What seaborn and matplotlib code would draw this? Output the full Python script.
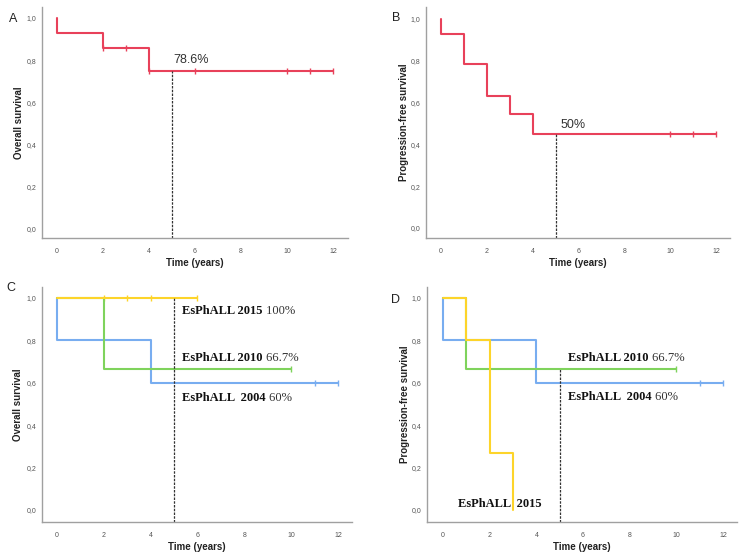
import pandas as pd
import numpy as np
import matplotlib
matplotlib.use("Agg")
import matplotlib.pyplot as plt
import seaborn as sns

# ---- data ----
# A: overall survival, whole cohort
a_time = [0, 0, 2, 4, 12]
a_surv = [1.0, 0.929, 0.857, 0.75, 0.75]
a_cens_t = [2, 3, 4, 6, 10, 11, 12]
a_cens_s = [0.857, 0.857, 0.75, 0.75, 0.75, 0.75, 0.75]

# B: progression-free survival, whole cohort
b_time = [0, 0, 1, 2, 3, 4, 12]
b_surv = [1.0, 0.929, 0.786, 0.63, 0.545, 0.45, 0.45]
b_cens_t = [10, 11, 12]
b_cens_s = [0.45, 0.45, 0.45]

# C: overall survival by protocol
c_2004_time = [0, 0, 4, 12]
c_2004_surv = [1.0, 0.8, 0.6, 0.6]
c_2004_cens_t = [11, 12]
c_2004_cens_s = [0.6, 0.6]
c_2010_time = [0, 2, 10]
c_2010_surv = [1.0, 0.667, 0.667]
c_2010_cens_t = [10]
c_2010_cens_s = [0.667]
c_2015_time = [0, 6]
c_2015_surv = [1.0, 1.0]
c_2015_cens_t = [2, 3, 4, 6]
c_2015_cens_s = [1.0, 1.0, 1.0, 1.0]

# D: progression-free survival by protocol
d_2004_time = [0, 0, 4, 12]
d_2004_surv = [1.0, 0.8, 0.6, 0.6]
d_2004_cens_t = [11, 12]
d_2004_cens_s = [0.6, 0.6]
d_2010_time = [0, 1, 10]
d_2010_surv = [1.0, 0.667, 0.667]
d_2010_cens_t = [10]
d_2010_cens_s = [0.667]
d_2015_time = [0, 1, 2, 3]
d_2015_surv = [1.0, 0.8, 0.267, 0.0]

ticks_x = [0, 2, 4, 6, 8, 10, 12]
ticks_y = [0.0, 0.2, 0.4, 0.6, 0.8, 1.0]
ytick_labels = ['0,0', '0,2', '0,4', '0,6', '0,8', '1,0']

RED = '#e8415a'
BLUE = '#78adf0'
GREEN = '#7fd35c'
YELLOW = '#fdd42a'

sns.set_style("white")
plt.rcParams['font.family'] = ['Liberation Sans', 'DejaVu Sans']

W, H = 750, 555
fig = plt.figure(figsize=(7.5, 5.55), dpi=100)


def make_ax(left, right, top, bottom, xlim, ylim):
    ax = fig.add_axes([left / W, (H - bottom) / H, (right - left) / W, (bottom - top) / H])
    ax.set_xlim(*xlim)
    ax.set_ylim(*ylim)
    for s in ['top', 'right']:
        ax.spines[s].set_visible(False)
    for s in ['left', 'bottom']:
        ax.spines[s].set_color('#a0a0a0')
        ax.spines[s].set_linewidth(1.0)
    ax.set_xticks(ticks_x)
    ax.set_xticklabels([str(t) for t in ticks_x])
    ax.set_yticks(ticks_y)
    ax.set_yticklabels(ytick_labels)
    ax.tick_params(length=0, labelsize=5, colors='#555555', pad=4)
    ax.tick_params(axis='x', pad=7)
    return ax


def km(ax, t, s, color, cens_t=None, cens_s=None):
    df = pd.DataFrame({'t': t, 's': s})
    sns.lineplot(data=df, x='t', y='s', ax=ax, color=color, lw=1.5,
                 drawstyle='steps-post', estimator=None, sort=False)
    if cens_t:
        cf = pd.DataFrame({'t': cens_t, 's': cens_s})
        sns.scatterplot(data=cf, x='t', y='s', ax=ax, color=color,
                        marker='|', s=18, linewidth=1.0)


def labels(ax, ylab, letter, lx, ly, ylab_x, xlab_y):
    ax.set_xlabel('Time (years)', fontsize=7, fontweight='bold', color='#222222')
    ax.set_ylabel(ylab, fontsize=7, fontweight='bold', color='#222222')
    ax.xaxis.set_label_coords(0.5, xlab_y)
    ax.yaxis.set_label_coords(ylab_x, 0.5)
    fig.text(lx / W, 1 - ly / H, letter, fontsize=9, ha='center', va='center', color='#222222')


def two_part(ax, x, y, bold, normal):
    t = ax.text(x, y, bold, fontsize=9, fontweight='bold', family='Liberation Serif',
                va='bottom', ha='left', color='#111111')
    if normal:
        ax.annotate(normal, xy=(1, 0), xycoords=t, fontsize=9, family='Liberation Serif',
                    va='bottom', ha='left', color='#333333')


dash = (0, (2, 1))

# A
axA = make_ax(42, 348, 7, 238, (-0.65, 12.65), (-0.043, 1.052))
km(axA, a_time, a_surv, RED, a_cens_t, a_cens_s)
axA.vlines(5, -0.043, 0.75, color='#333333', lw=0.9, linestyle=dash)
axA.text(5.05, 0.77, '78.6%', fontsize=9, color='#333333', va='bottom', ha='left')
labels(axA, 'Overall survival', 'A', 13, 19, -0.06, -0.085)

# B
axB = make_ax(426, 730, 7, 238, (-0.655, 12.6), (-0.048, 1.057))
km(axB, b_time, b_surv, RED, b_cens_t, b_cens_s)
axB.vlines(5, -0.048, 0.45, color='#333333', lw=0.9, linestyle=dash)
axB.text(5.2, 0.465, '50%', fontsize=9, color='#333333', va='bottom', ha='left')
labels(axB, 'Progression-free survival', 'B', 396, 18, -0.055, -0.085)

# C
axC = make_ax(42, 352, 287, 522, (-0.64, 12.6), (-0.057, 1.052))
km(axC, c_2004_time, c_2004_surv, BLUE, c_2004_cens_t, c_2004_cens_s)
km(axC, c_2010_time, c_2010_surv, GREEN, c_2010_cens_t, c_2010_cens_s)
km(axC, c_2015_time, c_2015_surv, YELLOW, c_2015_cens_t, c_2015_cens_s)
axC.vlines(5, -0.057, 1.0, color='#333333', lw=0.9, linestyle=dash)
two_part(axC, 5.34, 0.91, 'EsPhALL 2015', ' 100%')
two_part(axC, 5.34, 0.688, 'EsPhALL 2010', ' 66.7%')
two_part(axC, 5.34, 0.5, 'EsPhALL  2004', ' 60%')
labels(axC, 'Overall survival', 'C', 11, 288, -0.06, -0.085)

# D
axD = make_ax(427, 737, 287, 522, (-0.69, 12.6), (-0.057, 1.052))
km(axD, d_2004_time, d_2004_surv, BLUE, d_2004_cens_t, d_2004_cens_s)
km(axD, d_2010_time, d_2010_surv, GREEN, d_2010_cens_t, d_2010_cens_s)
km(axD, d_2015_time, d_2015_surv, YELLOW)
axD.vlines(5, -0.057, 0.665, color='#333333', lw=0.9, linestyle=dash)
two_part(axD, 5.36, 0.688, 'EsPhALL 2010', ' 66.7%')
two_part(axD, 5.36, 0.505, 'EsPhALL  2004', ' 60%')
two_part(axD, 0.64, 0.0, 'EsPhALL  2015', '')
labels(axD, 'Progression-free survival', 'D', 396, 300, -0.055, -0.085)

fig.savefig('out.png', dpi=100)
